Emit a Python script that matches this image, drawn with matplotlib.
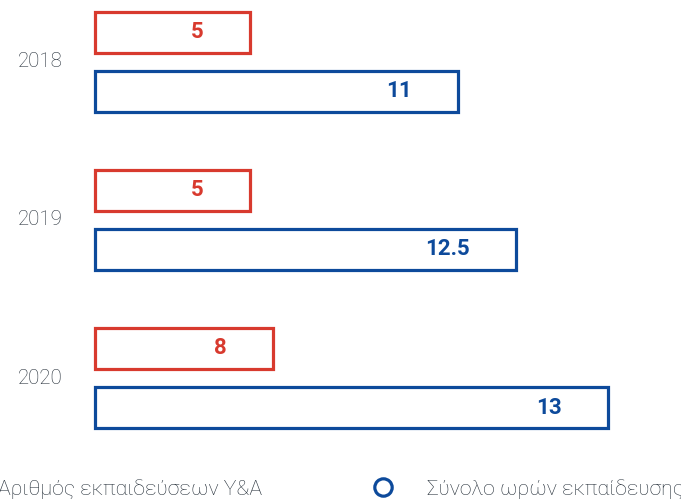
import matplotlib
matplotlib.use("Agg")
import matplotlib.pyplot as plt
from matplotlib.lines import Line2D

# ---- data ----
years = ["2018", "2019", "2020"]
trainings_labels = ["5", "5", "8"]            # Αριθμός εκπαιδεύσεων Υ&Α
hours_labels = ["11", "12.5", "13"]            # Σύνολο ωρών εκπαίδευσης
# bar extents as drawn in the picture (same unit as hours)
trainings_extent = [4.7, 4.7, 5.4]
hours_extent = [11.0, 12.76, 15.55]
legend_labels = ["Αριθμός εκπαιδεύσεων Υ&Α", "Σύνολο ωρών εκπαίδευσης"]

RED = "#d83a2e"
BLUE = "#0d4a9b"
GRAY = "#26303a"
FAM = ["Roboto", "DejaVu Sans"]

W, H, DPI = 681, 504, 100
fig = plt.figure(figsize=(W / DPI, H / DPI), dpi=DPI)
ax = fig.add_axes([0, 0, 1, 1])
ax.set_axis_off()

px_per_unit = 33.0
x0_px = 94.5
ax.set_xlim(-x0_px / px_per_unit, (W - x0_px) / px_per_unit)
grp_px = 158.1
top_px = 61.8
ax.set_ylim((H - top_px) / grp_px, -top_px / grp_px)

off = 29.5 / grp_px
bh = 41 / grp_px
lw = 2.3
for i, y in enumerate(years):
    ax.barh(i - off, trainings_extent[i], height=bh, left=0, facecolor="white",
            edgecolor=RED, linewidth=lw)
    ax.barh(i + off, hours_extent[i], height=bh, left=0, facecolor="white",
            edgecolor=BLUE, linewidth=lw)
    ax.annotate(trainings_labels[i], xy=(trainings_extent[i], i - off),
                xytext=(-33, 0), textcoords="offset points", ha="right", va="center",
                fontsize=16, fontweight="bold", color=RED, family=FAM)
    ax.annotate(hours_labels[i], xy=(hours_extent[i], i + off),
                xytext=(-33, 0), textcoords="offset points", ha="right", va="center",
                fontsize=16, fontweight="bold", color=BLUE, family=FAM)
    ax.annotate(y, xy=(0, i), xytext=(-23, 0), textcoords="offset points",
                ha="right", va="center", fontsize=14.8, fontweight="light",
                color=GRAY, family=FAM)

# legend (two single-entry legends)
def mk(color):
    return Line2D([], [], linestyle="none", marker="o", markersize=12.5,
                  markerfacecolor="none", markeredgecolor=color, markeredgewidth=2.3)

common = dict(frameon=False, borderpad=0, borderaxespad=0, handlelength=1.0,
              handletextpad=1.6, loc="center left",
              prop={"family": FAM, "size": 15.3, "weight": "light"},
              labelcolor=GRAY, bbox_transform=fig.transFigure)
leg1 = ax.legend([mk(RED)], [legend_labels[0]],
                 bbox_to_anchor=(-57 / W, 15 / H), **common)
ax.add_artist(leg1)
leg2 = ax.legend([mk(BLUE)], [legend_labels[1]],
                 bbox_to_anchor=(372 / W, 15 / H), **common)

fig.savefig("out.png", dpi=DPI)
